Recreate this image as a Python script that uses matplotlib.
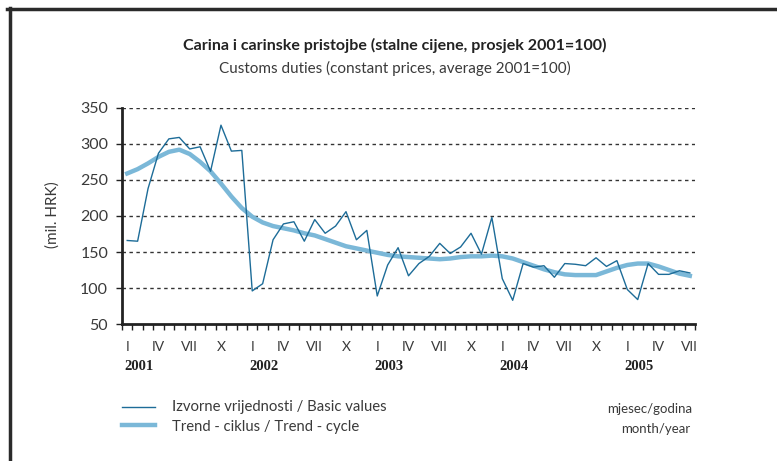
import matplotlib.pyplot as plt
from matplotlib.lines import Line2D

# monthly values, Jan 2001 - Jul 2005
basic = [166, 165, 238, 287, 307, 309, 293, 296, 262, 326, 290, 291,
         96, 106, 167, 189, 192, 165, 195, 176, 186, 206, 167, 180,
         89, 132, 156, 117, 134, 144, 162, 148, 157, 176, 147, 198,
         113, 83, 134, 129, 131, 115, 134, 133, 131, 142, 130, 138,
         98, 84, 134, 119, 119, 124, 121]
trend = [259, 265, 273, 282, 289, 292, 286, 275, 262, 245, 227, 211,
         199, 191, 186, 183, 180, 176, 173, 168, 163, 158, 155, 152,
         149, 146, 144, 143, 142, 141, 140, 141, 143, 144, 144, 145,
         144, 141, 136, 131, 126, 122, 119, 118, 118, 118, 123, 128,
         132, 134, 134, 130, 125, 120, 117]
month_labels = ['I', 'IV', 'VII', 'X']
years = ['2001', '2002', '2003', '2004', '2005']

plt.rcParams['font.family'] = ['Lato', 'DejaVu Sans']
txt = '#3a3a3a'

fig = plt.figure(figsize=(7.77, 4.61), dpi=100)
ax = fig.add_axes([0.157, 0.297, 0.7375, 0.469])

x = list(range(len(basic)))
ax.plot(x, trend, color='#7bb8d8', lw=3.2, zorder=3)
ax.plot(x, basic, color='#1d6c98', lw=1.0, zorder=4)

ax.set_xlim(-0.5, len(basic) - 0.5)
ax.set_ylim(50, 350)
ax.set_yticks(range(50, 351, 50))
for y in range(100, 351, 50):
    ax.axhline(y, color='#333333', lw=1, ls=(0, (2.5, 2.5)), zorder=1)

for s in ['top', 'right']:
    ax.spines[s].set_visible(False)
for s in ['left', 'bottom']:
    ax.spines[s].set_linewidth(2)
    ax.spines[s].set_color('#222222')

ax.set_xticks([i - 0.5 for i in range(len(basic) + 1)])
ax.set_xticklabels([])
ax.tick_params(axis='x', length=4, width=1, color='#222222')
ax.tick_params(axis='y', length=4, width=1, color='#222222',
               labelsize=11.5, labelcolor=txt, pad=6)

tr = ax.get_xaxis_transform()
for i in range(0, len(basic), 3):
    ax.text(i, -0.105, month_labels[(i // 3) % 4], transform=tr,
            ha='center', va='center', fontsize=10, color=txt)
for k, yr in enumerate(years):
    ax.text(12 * k - 0.3, -0.195, yr, transform=tr, ha='left', va='center',
            fontsize=10.5, fontweight='bold', family='Liberation Serif', color='#222222')

fig.text(0.508, 0.902, 'Carina i carinske pristojbe (stalne cijene, prosjek 2001=100)',
         ha='center', va='center', fontsize=11.5, fontweight='bold', color='#222222')
fig.text(0.508, 0.852, 'Customs duties (constant prices, average 2001=100)',
         ha='center', va='center', fontsize=11, color=txt)
fig.text(53 / 777, 1 - 215 / 461, '(mil. HRK)', rotation=90, ha='center', va='center',
         fontsize=11, color=txt)

# legend
fig.add_artist(Line2D([122 / 777, 155 / 777], [1 - 407 / 461] * 2, color='#1d6c98', lw=1.0))
fig.add_artist(Line2D([122 / 777, 155 / 777], [1 - 425 / 461] * 2, color='#7bb8d8', lw=3.2))
fig.text(172 / 777, 1 - 407 / 461, 'Izvorne vrijednosti / Basic values',
         ha='left', va='center', fontsize=10.7, color=txt)
fig.text(172 / 777, 1 - 427 / 461, 'Trend - ciklus / Trend - cycle',
         ha='left', va='center', fontsize=10.7, color=txt)
fig.text(692 / 777, 1 - 409 / 461, 'mjesec/godina', ha='right', va='center',
         fontsize=9.5, color=txt)
fig.text(690 / 777, 1 - 429 / 461, 'month/year', ha='right', va='center',
         fontsize=9.5, color=txt)

# frame
fig.add_artist(Line2D([7 / 777, 1], [1 - 9 / 461] * 2, color='#2a2a2a', lw=2.5))
fig.add_artist(Line2D([10 / 777] * 2, [0, 1 - 8 / 461], color='#2a2a2a', lw=2.5))

fig.savefig('out.png', dpi=100)
